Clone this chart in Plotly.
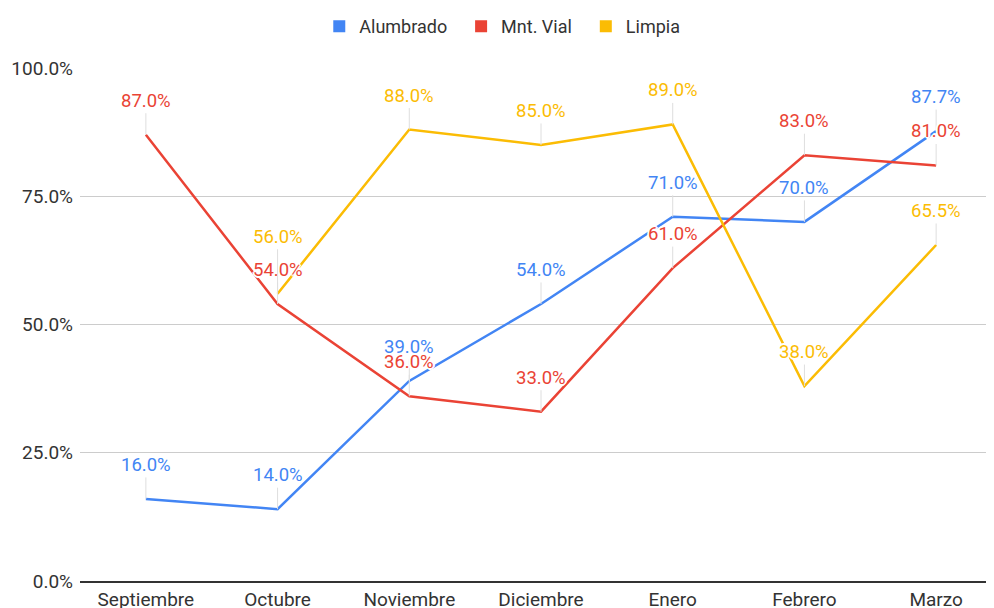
import plotly.graph_objects as go

months = ["Septiembre", "Octubre", "Noviembre", "Diciembre", "Enero", "Febrero", "Marzo"]
alumbrado = [16.0, 14.0, 39.0, 54.0, 71.0, 70.0, 87.7]
mnt_vial = [87.0, 54.0, 36.0, 33.0, 61.0, 83.0, 81.0]
limpia = [None, 56.0, 88.0, 85.0, 89.0, 38.0, 65.5]
y_ticks = [0, 25, 50, 75, 100]
y_tick_text = [f"{v:.1f}%" for v in y_ticks]

series = [
    ("Alumbrado", alumbrado, "#4285F4"),
    ("Mnt. Vial", mnt_vial, "#EA4335"),
    ("Limpia", limpia, "#FBBC04"),
]

# label offsets (pixels) that differ from default to avoid collisions
label_offset_override = {("Limpia", 1): -57}

FONT = "Roboto"
FS = 18.5
HALO = "1px 1px 0 #fff, -1px -1px 0 #fff, 1px -1px 0 #fff, -1px 1px 0 #fff, 0 2px 0 #fff, 0 -2px 0 #fff, 2px 0 0 #fff, -2px 0 0 #fff"
fig = go.Figure()
annotations = []
for k, (name, vals, color) in enumerate(series):
    fig.add_trace(go.Scatter(
        x=months, y=vals, mode="lines", name=name,
        line=dict(color=color, width=2.5), showlegend=False,
        connectgaps=False, hoverinfo="skip"))
    # legend proxy
    pad = "\u00a0\u00a0" if k < len(series) - 1 else ""
    fig.add_trace(go.Scatter(
        x=[None], y=[None], mode="markers", name=name + pad,
        marker=dict(symbol="square", size=12, color=color)))
    for i, v in enumerate(vals):
        if v is None:
            continue
        annotations.append(dict(
            x=months[i], y=v, xref="x", yref="y",
            text=f"{v:.1f}%", showarrow=True, arrowhead=0,
            arrowwidth=1, arrowcolor="#dedede", standoff=0,
            ax=0, ay=label_offset_override.get((name, i), -34),
            font=dict(family=FONT, size=FS, color=color, shadow=HALO)))

fig.update_layout(
    width=994, height=608,
    margin=dict(l=72, r=0, t=59, b=35),
    paper_bgcolor="white", plot_bgcolor="white",
    font=dict(family=FONT, size=FS, color="#333333"),
    annotations=annotations,
    legend=dict(orientation="h", x=0.458, xanchor="center", y=1.0817, yanchor="middle",
                font=dict(family=FONT, size=18, color="#333333"),
                itemclick=False),
    xaxis=dict(range=[-0.5, 6.5], showgrid=False, showline=True,
               linecolor="#333333", linewidth=1.5, ticks="", tickfont=dict(size=19)),
    yaxis=dict(range=[0, 100], tickvals=y_ticks, ticktext=y_tick_text,
               showgrid=True, gridcolor="#cccccc", gridwidth=1, zeroline=False,
               ticklabelstandoff=6, tickfont=dict(size=19)),
    hovermode=False,
)

fig.write_html("out.html")
